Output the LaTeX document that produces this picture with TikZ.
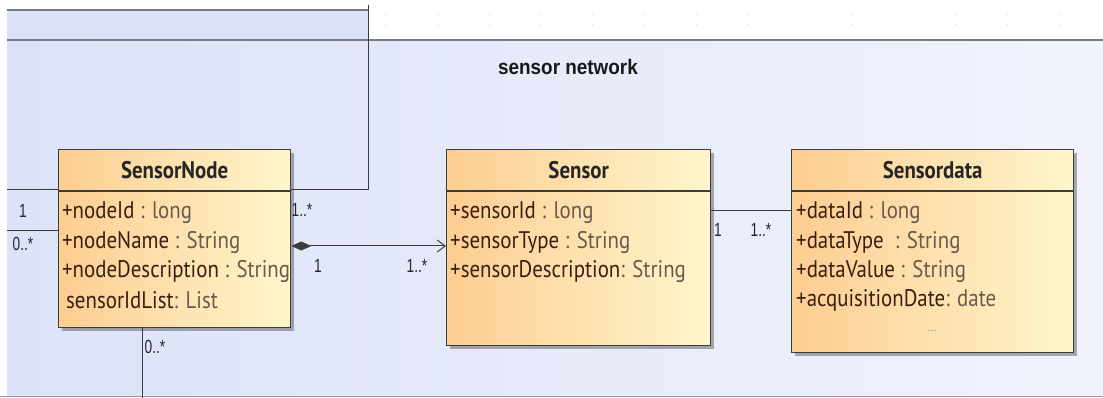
\documentclass[tikz,border=0pt]{standalone}
\usepackage{fontspec}
\usetikzlibrary{arrows.meta,calc,shadows}
\newfontfamily\umlfont[FakeStretch=0.87]{PT Sans}
\newfontfamily\labfont[FakeStretch=0.72]{Liberation Sans}
\newfontfamily\ttlfont[FakeStretch=0.9]{Liberation Sans}
\definecolor{bgblue}{HTML}{DCE2F8}
\definecolor{bgblueR}{HTML}{F1F3FC}
\definecolor{boxL}{HTML}{FDCD92}
\definecolor{boxR}{HTML}{FFF6CC}
\definecolor{nameC}{HTML}{3A1E10}
\definecolor{typeC}{HTML}{6A5A4C}
\definecolor{lineC}{HTML}{3C3C3C}
\definecolor{frameC}{HTML}{7A7C86}
\tikzset{
  classbox/.style={draw=lineC, line width=1.3pt, left color=boxL, right color=boxR,
    rectangle, inner sep=0pt, anchor=north west,
    drop shadow={shadow xshift=3pt, shadow yshift=-3pt, opacity=0.45, fill=black!70}},
  classtitle/.style={font=\umlfont\bfseries\fontsize{24}{28}\selectfont, text=black!85, inner sep=0pt},
  attr/.style={font=\umlfont\fontsize{24}{28}\selectfont, anchor=west, inner sep=0pt},
  mult/.style={font=\labfont\fontsize{19}{21}\selectfont, text=black!85, inner sep=0pt},
  conn/.style={draw=lineC, line width=1pt},
  griddot/.style={fill=black!25, inner sep=0pt, minimum size=1.4pt, circle},
}
\newcommand{\at}[2]{{\color{nameC}#1}{\color{typeC}#2}}
\begin{document}
\begin{tikzpicture}[x=1pt,y=-1pt]
\useasboundingbox (0,0) rectangle (1103,398);
% background
\fill[white] (0,0) rectangle (1103,398);
\shade[left color=bgblue, right color=bgblueR] (7,40) rectangle (1103,396);
\fill[bgblue] (7,10) rectangle (368,40);
\draw[frameC, line width=1.2pt] (7,10) -- (368,10);
\draw[frameC, line width=1.6pt] (7,40) -- (1103,40);
\draw[frameC!80, line width=1.4pt] (0,396.5) -- (1103,396.5);
% grid dots
\foreach \gx in {386,438,490,541,593,645,697,748,800,852,904,956,1007,1059} {
  \node[griddot] (gdA\gx) at (\gx,14) {};
  \node[griddot] (gdB\gx) at (\gx,25) {};
}
% title
\node[font=\ttlfont\bfseries\fontsize{21}{24}\selectfont, text=black!90, inner sep=0pt] (title) at (568,67) {sensor network};
% classes
\node[classbox, minimum width=232pt, minimum height=178pt] (sn) at (58,149) {};
\node[classbox, minimum width=264pt, minimum height=196pt] (se) at (446,149) {};
\node[classbox, minimum width=282pt, minimum height=203pt] (sd) at (791,149) {};
\foreach \b in {sn,se,sd} {
  \draw[lineC, line width=1.3pt] ($(\b.north west)+(0,42)$) -- ($(\b.north east)+(0,42)$);
}
\node[classtitle] (snT) at ($(sn.north)+(0,21)$) {SensorNode};
\node[classtitle] (seT) at ($(se.north)+(0,21)$) {Sensor};
\node[classtitle] (sdT) at ($(sd.north)+(0,21)$) {Sensordata};
% SensorNode attributes
\node[attr] (sn1) at (62,213) {\at{+nodeId}{\ : long}};
\node[attr] (sn2) at (62,242) {\at{+nodeName}{\ : String}};
\node[attr] (sn3) at (62,271) {\at{+nodeDescription}{\ : String}};
\node[attr] (sn4) at (66,300) {\at{sensorIdList}{: List}};
% Sensor attributes
\node[attr] (se1) at (450,213) {\at{+sensorId}{\ : long}};
\node[attr] (se2) at (450,242) {\at{+sensorType}{\ : String}};
\node[attr] (se3) at (450,271) {\at{+sensorDescription}{: String}};
% Sensordata attributes
\node[attr] (sd1) at (796,213) {\at{+dataId}{\ : long}};
\node[attr] (sd2) at (796,242) {\at{+dataType}{\ \ : String}};
\node[attr] (sd3) at (796,271) {\at{+dataValue}{\ : String}};
\node[attr] (sd4) at (796,300) {\at{+acquisitionDate}{: date}};
\node[font=\umlfont\fontsize{12}{13}\selectfont, text=black!45, inner sep=0pt] (sd5) at (932,331) {...};
% connectors
\coordinate (l1) at (7,190);
\coordinate (l2) at (7,231);
\coordinate (up) at (368,5);
\coordinate (down) at (142,398);
\draw[conn] (l1) -- (l1 -| sn.west);
\draw[conn] (l2) -- (l2 -| sn.west);
\draw[conn] ($(sn.north east)+(0,41)$) -| (up);
\draw[conn] (sn.south -| down) -- (down);
\draw[conn, {Diamond[length=20pt,width=9pt]}-{Straight Barb[length=8pt,width=12pt,line width=1pt]}] ($(sn.north east)+(0,97)$) -- ($(se.north west)+(0,97)$);
\draw[conn] ($(se.north east)+(0,62)$) -- ($(sd.north west)+(0,62)$);
% multiplicities
\node[mult] (m1) at (23,211) {1};
\node[mult] (m2) at (23,244) {0..*};
\node[mult] (m3) at (302,210) {1..*};
\node[mult] (m4) at (155,347) {0..*};
\node[mult] (m5) at (318,266) {1};
\node[mult] (m6) at (417,266) {1..*};
\node[mult] (m7) at (718,230) {1};
\node[mult] (m8) at (761,230) {1..*};
\end{tikzpicture}
\end{document}
